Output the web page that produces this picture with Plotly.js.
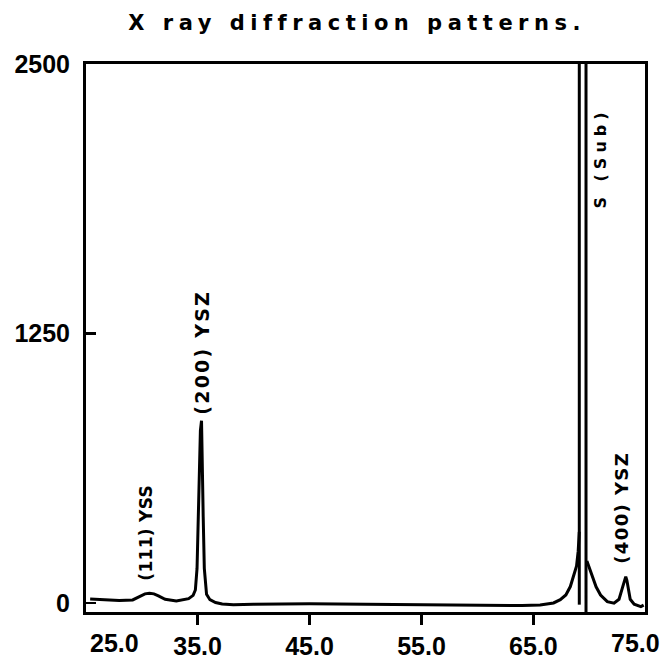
<!DOCTYPE html>
<html>
<head>
<meta charset="utf-8">
<script src="https://cdn.plot.ly/plotly-3.0.1.min.js"></script>
<style>html,body{margin:0;padding:0;background:#fff;}#chart{width:662px;height:662px;}</style>
</head>
<body>
<div id="chart"></div>
<script>
var twoTheta = [25.4, 26.5, 28.0, 29.2, 29.8, 30.3, 30.7, 31.1, 31.5, 32.1, 33.1, 34.2, 34.6, 34.8, 34.95, 35.05, 35.15, 35.25, 35.35, 35.42, 35.5, 35.6, 35.8, 36.1, 36.6, 37.2, 38.2, 40, 45, 50, 55, 60, 64, 65.6, 66.8, 67.4, 67.9, 68.3, 68.6, 68.85, 69.0, 69.1, 69.1, 69.7, 69.7, null, 69.1, 69.1, null, 69.78, 69.85, 70.05, 70.3, 70.6, 71.0, 71.6, 72.2, 72.65, 72.95, 73.15, 73.25, 73.35, 73.5, 73.65, 74.0, 74.6, 74.85];
var intensity = [18, 14, 11, 14, 30, 42, 45, 42, 33, 17, 9, 20, 35, 60, 160, 400, 620, 800, 845, 700, 400, 160, 40, 15, 2, -5, -8, -6, -4, -6, -9, -11, -12, -10, 0, 15, 37, 76, 122, 170, 240, 330, 2600, 2600, -42, null, -8, 330, null, 195, 185, 160, 115, 75, 37, 6, -1, 17, 70, 110, 122, 105, 60, 17, -6, -17, -10];

var xTickVals = [25, 35, 45, 55, 65, 75];
var xTickText = ["25.0", "35.0", "45.0", "55.0", "65.0", "75.0"];
var yTickVals = [0, 1250, 2500];
var yTickText = ["0", "1250", "2500"];

var peakLabels = ["(111) YSS", "(200) YSZ", "S (Sub)", "(400) YSZ"];
var titleText = "X ray diffraction patterns.";

var xRange = [25.03, 74.97];
var labelFont = "DejaVu Sans, sans-serif";
var tickFont = {family: 'Liberation Sans, Arial, sans-serif', size: 25, color: '#000', weight: 'bold'};
function spaced(t, ls) { return '<span style="letter-spacing:' + ls + 'px">' + t + '</span>'; }
function xPaper(v) { return (v - xRange[0]) / (xRange[1] - xRange[0]); }

var annotations = [
  {x: 30.44, y: 324, text: spaced(peakLabels[0], 0.3), size: 17},
  {x: 35.36, y: 1164, text: spaced(peakLabels[1], 2.2), size: 19},
  {x: 71.0, y: 2064, text: spaced(peakLabels[2], 5), size: 16},
  {x: 72.8, y: 440, text: spaced(peakLabels[3], 1.4), size: 18}
].map(function (a) {
  return {x: a.x, y: a.y, xref: 'x', yref: 'y', text: a.text, textangle: -90,
          showarrow: false, font: {family: labelFont, size: a.size, color: '#000', weight: 'bold'}};
});

// end tick labels (25.0 and 75.0) sit at the frame corners, drawn as text below the axis
annotations.push({x: xPaper(xTickVals[0]), y: 0, xref: 'paper', yref: 'paper', yanchor: 'top', xanchor: 'left',
                  xshift: 2, yshift: -15, text: xTickText[0], showarrow: false, font: tickFont});
annotations.push({x: xPaper(xTickVals[5]), y: 0, xref: 'paper', yref: 'paper', yanchor: 'top', xanchor: 'center',
                  xshift: -10, yshift: -15, text: xTickText[5], showarrow: false, font: tickFont});

var trace = {
  x: twoTheta, y: intensity, type: 'scatter', mode: 'lines',
  line: {color: '#000', width: 3}, connectgaps: false, hoverinfo: 'skip'
};

var layout = {
  width: 662, height: 662,
  margin: {l: 86, r: 17, t: 64, b: 50},
  paper_bgcolor: '#fff', plot_bgcolor: '#fff',
  showlegend: false,
  title: {text: spaced(titleText, 5.5), x: 0.485, xref: 'paper', xanchor: 'center', y: 0.966, yanchor: 'middle',
          font: {family: labelFont, size: 21, color: '#000', weight: 'bold'}},
  xaxis: {range: xRange, tickvals: xTickVals, ticktext: xTickText,
          showgrid: false, zeroline: false, showline: true, mirror: true,
          linecolor: '#000', linewidth: 3, ticks: 'outside', ticklen: 10, tickwidth: 2.5, tickcolor: '#000',
          tickfont: tickFont},
  yaxis: {range: [-42, 2500], tickvals: yTickVals, ticktext: yTickText,
          showgrid: false, zeroline: false, showline: true, mirror: true,
          linecolor: '#000', linewidth: 3, ticks: 'inside', ticklen: 10, tickwidth: 2.5, tickcolor: '#000',
          ticklabelstandoff: 8, tickfont: tickFont},
  annotations: annotations
};

Plotly.newPlot('chart', [trace], layout, {displayModeBar: false, staticPlot: true});
</script>
</body>
</html>
